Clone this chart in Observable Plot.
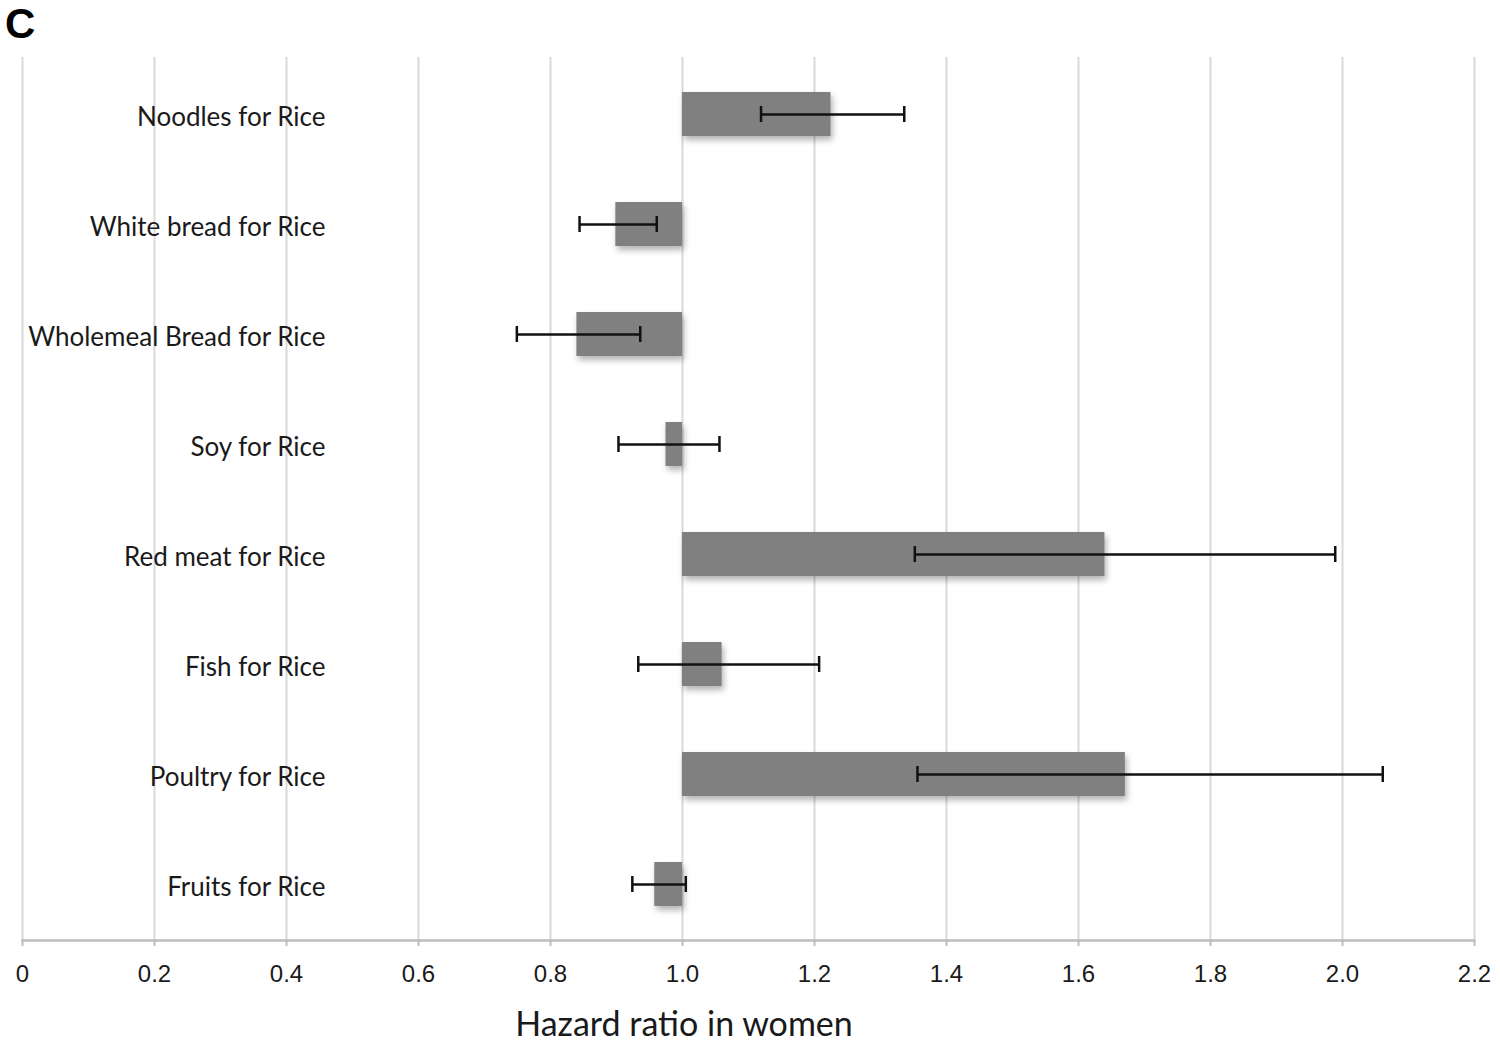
<!DOCTYPE html>
<html>
<head>
<meta charset="utf-8">
<script src="https://cdn.jsdelivr.net/npm/d3@7"></script>
<script src="https://cdn.jsdelivr.net/npm/@observablehq/plot@0.6"></script>
<style>
  html, body { margin: 0; padding: 0; background: #fff; }
  #wrap { position: relative; width: 1500px; height: 1043px; overflow: hidden; }
  #panel { position: absolute; left: 5px; top: 0px; line-height: 44px; font: bold 42px "Liberation Sans", Arial, sans-serif; color: #000; }
  #xlabel { position: absolute; left: 0; width: 1368px; top: 1002px; line-height: 40px; text-align: center; font: 34px Lato, "Open Sans", sans-serif; color: #1a1a1a; }
  #chart { position: absolute; left: 0; top: 0; }
</style>
</head>
<body>
<div id="wrap">
  <div id="chart"></div>
  <div id="panel">C</div>
  <div id="xlabel">Hazard ratio in women</div>
</div>
<script>
const categories = ["Noodles for Rice", "White bread for Rice", "Wholemeal Bread for Rice", "Soy for Rice", "Red meat for Rice", "Fish for Rice", "Poultry for Rice", "Fruits for Rice"];
const hazardRatio = [1.225, 0.899, 0.840, 0.975, 1.640, 1.060, 1.671, 0.958];
const lowerCI = [1.119, 0.844, 0.749, 0.903, 1.352, 0.933, 1.356, 0.924];
const upperCI = [1.336, 0.961, 0.936, 1.056, 1.989, 1.207, 2.061, 1.005];
const xTicks = [0, 0.2, 0.4, 0.6, 0.8, 1.0, 1.2, 1.4, 1.6, 1.8, 2.0, 2.2];
const reference = 1;

const data = categories.map((c, i) => ({cat: c, hr: hazardRatio[i], lo: lowerCI[i], hi: upperCI[i]}));

const chart = Plot.plot({
  width: 1500,
  height: 1000,
  marginTop: 57,
  marginBottom: 60,
  marginLeft: 22,
  marginRight: 26,
  x: {domain: [0, 2.2]},
  y: {domain: categories, paddingInner: 0.6, paddingOuter: 0.3, axis: null},
  marks: [
    Plot.gridX(xTicks, {stroke: "#d9d9d9", strokeOpacity: 1, strokeWidth: 2}),
    Plot.frame({anchor: "bottom", stroke: "#bdbdbd", strokeWidth: 2.5}),
    Plot.axisX(xTicks, {
      tickSize: 6,
      tickPadding: 18,
      stroke: "#bdbdbd",
      strokeWidth: 2,
      tickFormat: d => d === 0 ? "0" : d.toFixed(1),
      fontSize: 24,
      fontFamily: "Liberation Sans, Arial, sans-serif",
      fill: "#1a1a1a",
      label: null
    }),
    Plot.axisY({
      tickSize: 0,
      tickPadding: -303,
      textAnchor: "end",
      fontSize: 26,
      fontFamily: "Lato, Open Sans, sans-serif",
      fill: "#1a1a1a",
      dy: 3,
      label: null
    }),
    Plot.barX(data, {
      y: "cat", x1: reference, x2: "hr", fill: "#808080",
      imageFilter: "drop-shadow(2px 4px 3px rgba(0,0,0,0.3))"
    }),
    Plot.ruleY(data, {y: "cat", x1: "lo", x2: "hi", stroke: "#111", strokeWidth: 2.5}),
    Plot.tickX(data, {y: "cat", x: "lo", stroke: "#111", strokeWidth: 2.5, insetTop: 14, insetBottom: 14}),
    Plot.tickX(data, {y: "cat", x: "hi", stroke: "#111", strokeWidth: 2.5, insetTop: 14, insetBottom: 14})
  ]
});
document.getElementById("chart").appendChild(chart);
</script>
</body>
</html>
